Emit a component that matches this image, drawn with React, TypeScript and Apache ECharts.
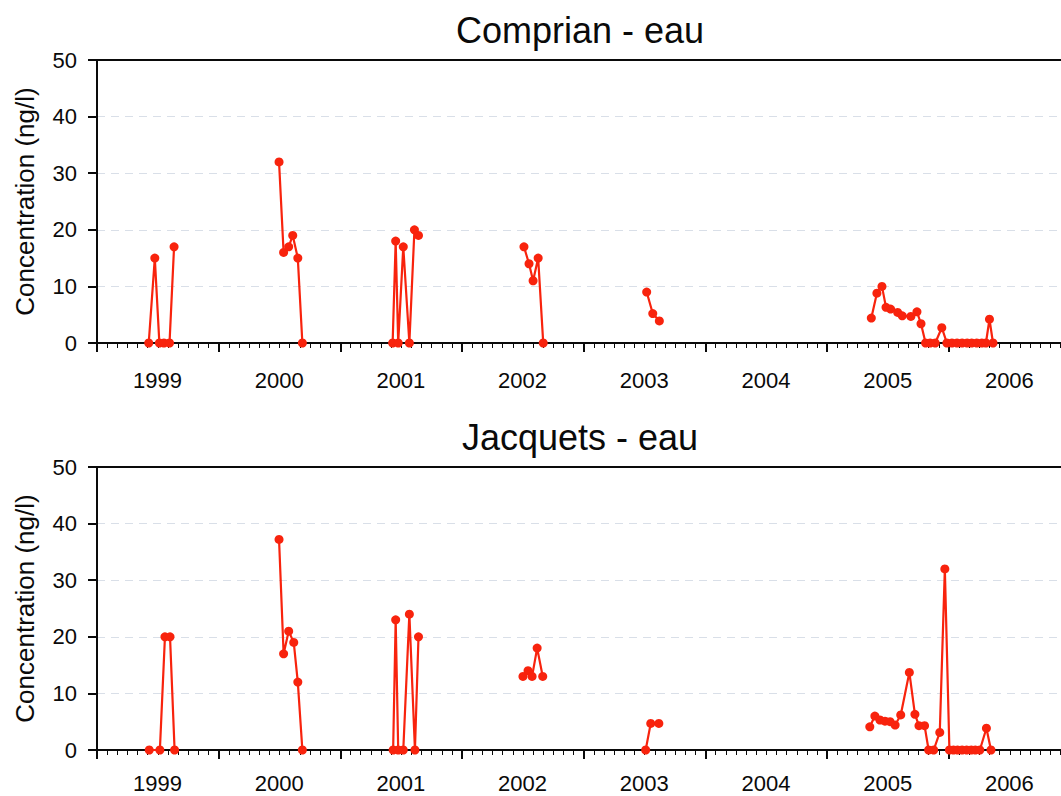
import React, { useEffect, useRef } from "react";
import * as echarts from "echarts";

// Months elapsed since January 1999 (null value = gap between sampling campaigns)
const comprianMonth = [
  5.1, 5.7, 6.15, 6.6, 7.15, 7.6, 12,
  17.95, 18.4, 18.9, 19.3, 19.8, 20.25, 25,
  29.15, 29.45, 29.7, 30.2, 30.8, 31.3, 31.7, 37,
  42.1, 42.6, 43.0, 43.5, 44.0, 50,
  54.2, 54.8, 55.45, 65,
  76.35, 76.9, 77.4, 77.8, 78.25, 78.95, 79.4, 80.25, 80.85, 81.25, 81.7, 82.15, 82.65,
  83.3, 83.8, 84.3, 84.8, 85.3, 85.8, 86.25, 86.75, 87.25, 87.65, 88.0, 88.35,
];
const comprianValue = [
  0, 15, 0, 0, 0, 17, null,
  32, 16, 17, 19, 15, 0, null,
  0, 18, 0, 17, 0, 20, 19, null,
  17, 14, 11, 15, 0, null,
  9, 5.2, 3.9, null,
  4.4, 8.8, 10, 6.3, 6.0, 5.4, 4.8, 4.7, 5.5, 3.4, 0, 0, 0,
  2.7, 0, 0, 0, 0, 0, 0, 0, 0, 0, 4.2, 0,
];

const jacquetsMonth = [
  5.15, 6.2, 6.7, 7.2, 7.65, 12,
  17.95, 18.4, 18.9, 19.4, 19.8, 20.25, 25,
  29.2, 29.45, 29.7, 30.2, 30.8, 31.35, 31.7, 37,
  42.0, 42.5, 42.9, 43.4, 43.95, 50,
  54.1, 54.6, 55.4, 65,
  76.2, 76.7, 77.2, 77.7, 78.2, 78.7, 79.25, 80.1, 80.65, 81.05, 81.6, 82.0, 82.5,
  83.1, 83.6, 84.05, 84.45, 84.85, 85.3, 85.75, 86.2, 86.6, 87.05, 87.7, 88.15,
];
const jacquetsValue = [
  0, 0, 20, 20, 0, null,
  37.2, 17, 21, 19, 12, 0, null,
  0, 23, 0, 0, 24, 0, 20, null,
  13, 14, 13, 18, 13, null,
  0, 4.7, 4.7, null,
  4.1, 6.0, 5.3, 5.1, 5.0, 4.4, 6.2, 13.7, 6.3, 4.3, 4.3, 0, 0,
  3.1, 32, 0, 0, 0, 0, 0, 0, 0, 0, 3.85, 0,
];

const titles = ["Comprian - eau", "Jacquets - eau"];
const firstYear = 1999;
const yAxisName = "Concentration (ng/l)";

const FONT = "'Liberation Sans', Arial, Helvetica, sans-serif";
const RED = "#f8230d";
const INK = "#0a0a0a";

export default function App() {
  const ref = useRef<HTMLDivElement>(null);

  useEffect(() => {
    if (!ref.current) return;
    const chart = echarts.init(ref.current, undefined, { renderer: "svg" });

    const gridTops = [52, 459];
    const gridHeight = 283;
    const labelMargins = [26, 22];

    const makeX = (i: number) => ({
      type: "value",
      gridIndex: i,
      min: 0,
      max: 96,
      interval: 12,
      axisLine: { show: true, onZero: false, lineStyle: { color: INK, width: 2 } },
      axisTick: { show: true, length: 9, lineStyle: { color: INK, width: 2 } },
      minorTick: { show: true, splitNumber: 12, length: 5, lineStyle: { color: INK, width: 1 } },
      splitLine: { show: false },
      axisLabel: {
        show: true,
        fontSize: 22,
        lineHeight: 22,
        fontFamily: FONT,
        color: INK,
        margin: labelMargins[i],
        align: "left",
        padding: [0, 0, 0, 36],
        formatter: (v: number) =>
          v % 12 === 0 && v < 96 ? String(firstYear + v / 12) : "",
      },
    });

    // top frame line of each plot area
    const makeTop = (i: number) => ({
      type: "value",
      gridIndex: i,
      position: "top",
      min: 0,
      max: 96,
      axisLine: { show: true, onZero: false, lineStyle: { color: INK, width: 2 } },
      axisTick: { show: false },
      axisLabel: { show: false },
      splitLine: { show: false },
    });

    const makeY = (i: number) => ({
      type: "value",
      gridIndex: i,
      min: 0,
      max: 50,
      interval: 10,
      name: yAxisName,
      nameLocation: "middle",
      nameRotate: 90,
      nameGap: 59,
      nameTextStyle: { fontSize: 26, fontFamily: FONT, color: INK },
      axisLine: { show: true, lineStyle: { color: INK, width: 2 } },
      axisTick: { show: true, length: 9, lineStyle: { color: INK, width: 2 } },
      splitLine: { show: true, lineStyle: { color: "#d9dfe8", type: [8, 6], width: 1 } },
      axisLabel: { fontSize: 22, fontFamily: FONT, color: INK, margin: 20 },
    });

    const mkData = (months: number[], values: (number | null)[]) =>
      months.map((m, k) => [m, values[k]]);

    chart.setOption({
      animation: false,
      backgroundColor: "#fff",
      graphic: titles.map((t, i) => ({
        type: "text",
        x: 572,
        y: i === 0 ? 22 : 429,
        style: {
          text: t,
          fontSize: 36,
          fontFamily: FONT,
          fill: INK,
          textAlign: "center",
          textVerticalAlign: "middle",
        },
      })),
      grid: gridTops.map((top) => ({
        left: 89,
        top,
        width: 973.6,
        height: gridHeight,
        show: false,
        containLabel: false,
        outerBoundsMode: "none",
      })),
      xAxis: [makeX(0), makeX(1), makeTop(0), makeTop(1)],
      yAxis: [makeY(0), makeY(1)],
      series: [
        { name: titles[0], data: mkData(comprianMonth, comprianValue), xAxisIndex: 0, yAxisIndex: 0 },
        { name: titles[1], data: mkData(jacquetsMonth, jacquetsValue), xAxisIndex: 1, yAxisIndex: 1 },
      ].map((s) => ({
        ...s,
        type: "line",
        connectNulls: false,
        symbol: "circle",
        symbolSize: 9,
        showAllSymbol: true,
        itemStyle: { color: RED },
        lineStyle: { color: RED, width: 2.2 },
        z: 5,
      })),
    });

    return () => chart.dispose();
  }, []);

  return (
    <div
      style={{
        position: "fixed",
        left: 8,
        top: 8,
        width: 1053,
        height: 788,
        overflow: "hidden",
        background: "#fff",
      }}
    >
      <div ref={ref} style={{ width: 1075, height: 788 }} />
    </div>
  );
}
